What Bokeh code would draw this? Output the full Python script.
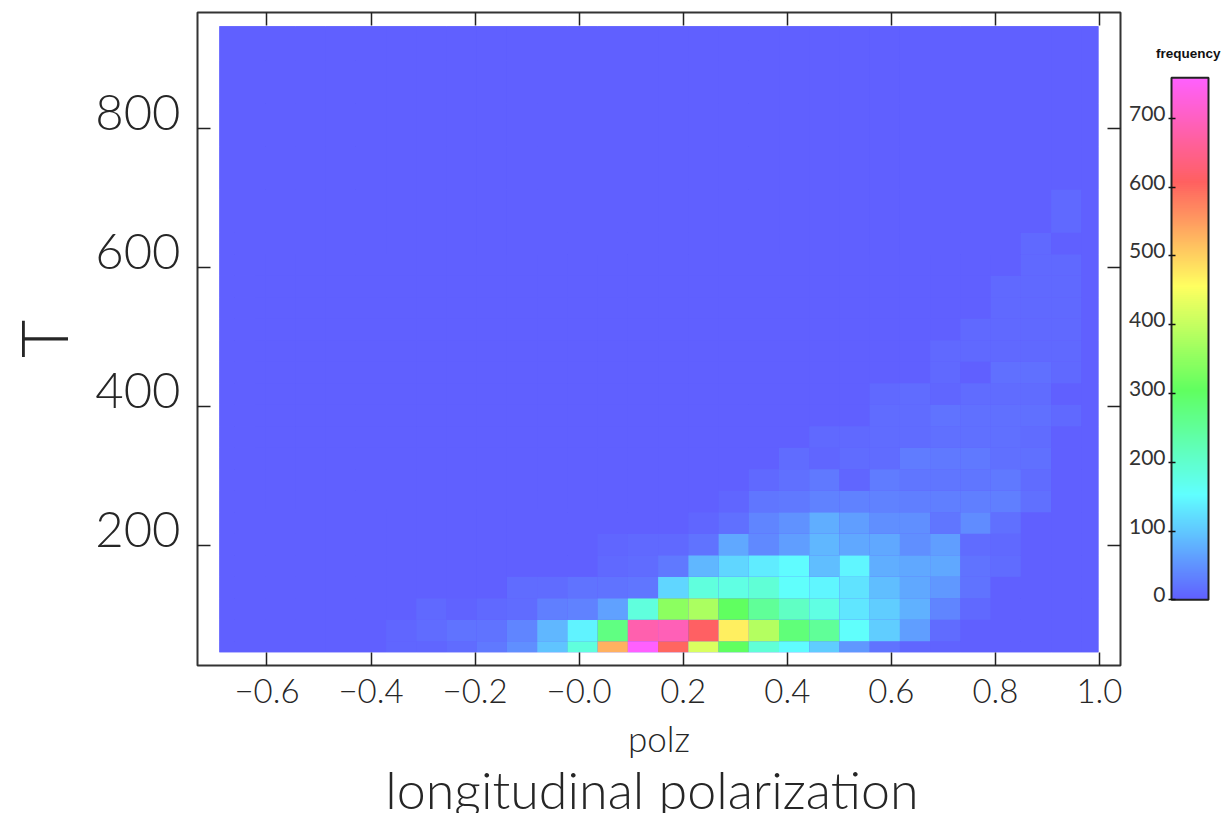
from bokeh.embed import file_html
from bokeh.resources import INLINE
from bokeh.plotting import figure
from bokeh.layouts import row
from bokeh.core.properties import value
from bokeh.models import (ColumnDataSource, FixedTicker, LinearAxis,
                          LinearColorMapper, Range1d)
from bokeh.transform import transform
import numpy as np

FONT = "Lato Light, Lato, sans-serif"
TEXT = "#262626"

x_ticks = [-0.6, -0.4, -0.2, 0, 0.2, 0.4, 0.6, 0.8, 1.0]
x_tick_labels = ["\u22120.6", "\u22120.4", "\u22120.2", "\u22120.0", "0.2", "0.4", "0.6", "0.8", "1.0"]
y_ticks = [200, 400, 600, 800]
y_tick_labels = ["200", "400", "600", "800"]
bar_ticks = [0, 100, 200, 300, 400, 500, 600, 700]
bar_tick_labels = ["0", "100", "200", "300", "400", "500", "600", "700"]

# histogram values, one list per T bin from the bottom, polz bins left to right
row_00 = [0,0,0,0,0,0,8,8,14,25,45,95,185,530,759,600,420,305,190,150,105,55,20,8,3,0,0,0,0,0]
row_01 = [0,0,0,0,0,0,8,12,20,20,38,85,140,270,680,690,610,470,385,280,250,155,105,60,12,2,0,0,0,0]
row_02 = [0,0,0,0,0,0,0,10,4,9,12,30,35,65,185,345,375,305,250,210,180,130,105,80,38,10,2,0,0,0]
row_03 = [0,0,0,0,0,0,0,0,0,0,12,12,18,18,22,115,185,180,190,155,145,125,90,70,55,20,0,0,0,0]
row_04 = [0,0,0,0,0,0,0,0,0,0,0,0,0,10,14,25,85,115,135,150,90,145,75,70,70,20,14,0,0,0]
row_05 = [0,0,0,0,0,0,0,0,0,0,0,0,0,8,9,9,20,70,40,60,85,70,70,45,60,14,9,0,0,0]
row_06 = [0,0,0,0,0,0,0,0,0,0,0,0,0,0,0,0,8,15,38,48,75,60,45,45,22,42,15,0,0,0]
row_07 = [0,0,0,0,0,0,0,0,0,0,0,0,0,0,0,0,0,8,22,25,35,35,35,30,30,30,32,15,0,0]
row_08 = [0,0,0,0,0,0,0,0,0,0,0,0,0,0,0,0,0,0,10,15,25,8,28,22,22,22,25,14,0,0]
row_09 = [0,0,0,0,0,0,0,0,0,0,0,0,0,0,0,0,0,0,0,14,6,12,13,28,25,25,16,16,0,0]
row_10 = [0,0,0,0,0,0,0,0,0,0,0,0,0,0,0,0,0,0,0,0,9,9,14,14,16,16,16,14,0,0]
row_11 = [0,0,0,0,0,0,0,0,0,0,0,0,0,0,0,0,0,0,0,0,0,0,14,14,18,15,15,15,9,0]
row_12 = [0,0,0,0,0,0,0,0,0,0,0,0,0,0,0,0,0,0,0,0,0,0,10,14,8,14,14,14,2,0]
row_13 = [0,0,0,0,0,0,0,0,0,0,0,0,0,0,0,0,0,0,0,0,0,0,0,0,9,2,15,15,9,0]
row_14 = [0,0,0,0,0,0,0,0,0,0,0,0,0,0,0,0,0,0,0,0,0,0,0,0,9,9,9,9,9,0]
row_15 = [0,0,0,0,0,0,0,0,0,0,0,0,0,0,0,0,0,0,0,0,0,0,0,0,0,9,9,9,9,0]
row_16 = [0,0,0,0,0,0,0,0,0,0,0,0,0,0,0,0,0,0,0,0,0,0,0,0,0,0,9,9,9,0]
row_17 = [0,0,0,0,0,0,0,0,0,0,0,0,0,0,0,0,0,0,0,0,0,0,0,0,0,0,9,9,9,0]
row_18 = [0,0,0,0,0,0,0,0,0,0,0,0,0,0,0,0,0,0,0,0,0,0,0,0,0,0,0,9,9,0]
row_19 = [0,0,0,0,0,0,0,0,0,0,0,0,0,0,0,0,0,0,0,0,0,0,0,0,0,0,0,9,2,0]
row_20 = [0,0,0,0,0,0,0,0,0,0,0,0,0,0,0,0,0,0,0,0,0,0,0,0,0,0,0,0,9,0]
row_21 = [0,0,0,0,0,0,0,0,0,0,0,0,0,0,0,0,0,0,0,0,0,0,0,0,0,0,0,0,9,0]
empty_row = [0] * 30
rows = [row_00, row_01, row_02, row_03, row_04, row_05, row_06, row_07, row_08, row_09, row_10,
        row_11, row_12, row_13, row_14, row_15, row_16, row_17, row_18, row_19, row_20, row_21,
        *[empty_row] * 8]

# colour scale: stops evenly spaced over the value range
stops = [(96, 96, 255), (96, 255, 255), (96, 255, 96), (255, 255, 96), (255, 96, 96), (255, 96, 255)]
N_COL = 256
VMAX = 759
pos = np.linspace(0, len(stops) - 1, N_COL)
palette = ["#%02x%02x%02x" % tuple(int(round(np.interp(t, range(len(stops)), [s[c] for s in stops])))
                                   for c in range(3)) for t in pos]
mapper = LinearColorMapper(palette=palette, low=0, high=VMAX)

# bin edges, clipped to the sampled range
X_LO, X_HI, X_START, X_BIN = -0.6915, 0.998, -0.7198, 0.0581
Y_LO, Y_HI, Y_START, Y_BIN = 46.5, 947.0, 31.36, 30.94
xe = np.clip(X_START + X_BIN * np.arange(31), X_LO, X_HI)
ye = np.clip(Y_START + Y_BIN * np.arange(31), Y_LO, Y_HI)

left, right, bottom, top, val = [], [], [], [], []
for j, r in enumerate(rows):
    for i, v in enumerate(r):
        left.append(xe[i]); right.append(xe[i + 1]); bottom.append(ye[j]); top.append(ye[j + 1]); val.append(v)
src = ColumnDataSource(dict(left=left, right=right, bottom=bottom, top=top, v=val))

Y0, Y1 = 27.3, 966.9
LABEL_SHIFT = 23   # tick labels sit just above their ticks
p = figure(width=1125, height=813, output_backend="svg", toolbar_location=None,
           x_range=Range1d(-0.7335, 1.0404), y_range=Range1d(Y0, Y1),
           extra_y_ranges={"labels": Range1d(Y0 - LABEL_SHIFT, Y1 - LABEL_SHIFT)},
           min_border_left=195, min_border_right=5, min_border_top=12, min_border_bottom=148,
           title="longitudinal  polarization", title_location="below",
           x_axis_label="polz")
p.quad(left=[X_LO], right=[X_HI], bottom=[Y_LO], top=[Y_HI], fill_color=palette[0], line_color=None)
p.quad(left="left", right="right", bottom="bottom", top="top", source=src,
       fill_color=transform("v", mapper), line_color=None)
p.grid.visible = False
p.outline_line_color = "#333333"
p.outline_line_width = 2
p.background_fill_color = "white"

p.title.align = "center"
p.title.text_font = FONT
p.title.text_font_size = "52px"
p.title.text_font_style = "normal"
p.title.text_color = TEXT
p.title.standoff = -12

xa = p.xaxis[0]
xa.ticker = FixedTicker(ticks=x_ticks)
xa.major_label_overrides = dict(zip(x_ticks, x_tick_labels))
xa.major_label_text_font = FONT
xa.major_label_text_font_size = "33px"
xa.major_label_text_color = TEXT
xa.major_label_standoff = 13
xa.axis_label_text_font = FONT
xa.axis_label_text_font_size = "35px"
xa.axis_label_text_font_style = "normal"
xa.axis_label_text_color = TEXT
xa.axis_label_standoff = 11

ya = p.yaxis[0]
ya.ticker = FixedTicker(ticks=y_ticks)
ya.major_label_overrides = {t: "" for t in y_ticks}
ya.major_label_standoff = 0

for ax in (xa, ya):
    ax.axis_line_color = None
    ax.major_tick_in = 13
    ax.major_tick_out = 0
    ax.major_tick_line_color = "#222222"
    ax.major_tick_line_width = 1.5
    ax.minor_tick_line_color = None

ylab = LinearAxis(y_range_name="labels", ticker=FixedTicker(ticks=y_ticks), axis_line_color=None,
                  major_tick_line_color=None, minor_tick_line_color=None, major_tick_in=0, major_tick_out=0,
                  major_label_text_font=FONT, major_label_text_font_size="49px", major_label_text_color=TEXT,
                  major_label_standoff=17, axis_label="T", axis_label_text_font=FONT,
                  axis_label_text_font_size="66px", axis_label_text_font_style="normal",
                  axis_label_text_color=TEXT, axis_label_standoff=10)
p.add_layout(ylab, "left")

for side, ticks in (("above", x_ticks), ("right", y_ticks)):
    ax = LinearAxis(ticker=FixedTicker(ticks=ticks), axis_line_color=None, major_tick_in=13,
                    major_tick_out=0, major_tick_line_color="#222222", major_tick_line_width=1.5,
                    minor_tick_line_color=None, major_label_overrides={t: "" for t in ticks},
                    major_label_standoff=0)
    p.add_layout(ax, side)

# colour bar: the frame spans the whole strip, so the labels can be text marks in it
BAR_W = 37
levels = np.linspace(0, VMAX, N_COL).reshape(-1, 1)
bar = figure(width=100, height=813, output_backend="svg", toolbar_location=None,
             x_range=Range1d(-46 / BAR_W, 1 + 17 / BAR_W), y_range=Range1d(-95.5, 854), x_axis_type=None,
             min_border_left=0, min_border_right=0, min_border_top=12, min_border_bottom=148)
bar.image(image=[levels], x=0, y=0, dw=1, dh=VMAX, color_mapper=mapper)
bar.quad(left=[0], right=[1], bottom=[0], top=[VMAX], fill_color=None, line_color="#222222", line_width=2)
bar.grid.visible = False
bar.outline_line_color = None
by = bar.yaxis[0]
by.fixed_location = 0
by.ticker = FixedTicker(ticks=bar_ticks)
by.major_label_overrides = {t: "" for t in bar_ticks}
by.major_label_standoff = 0
by.axis_line_color = None
by.major_tick_in = 4
by.major_tick_out = 3
by.major_tick_line_color = "#111111"
by.major_tick_line_width = 1.5
by.minor_tick_line_color = None
bar.text(x=[0.45], y=[VMAX], text=["frequency"], y_offset=-24, text_align="center",
         text_baseline="middle", text_font=value("Liberation Sans"), text_font_style="bold",
         text_font_size="13.5px", text_color="#111111")
bar.text(x=[-6 / BAR_W] * len(bar_ticks), y=bar_ticks, text=bar_tick_labels, y_offset=-5, text_align="right",
         text_baseline="middle", text_font=value("Lato"), text_font_size="21px", text_color="#333333")

open("out.html", "w").write(file_html(row(p, bar, spacing=0), INLINE))
